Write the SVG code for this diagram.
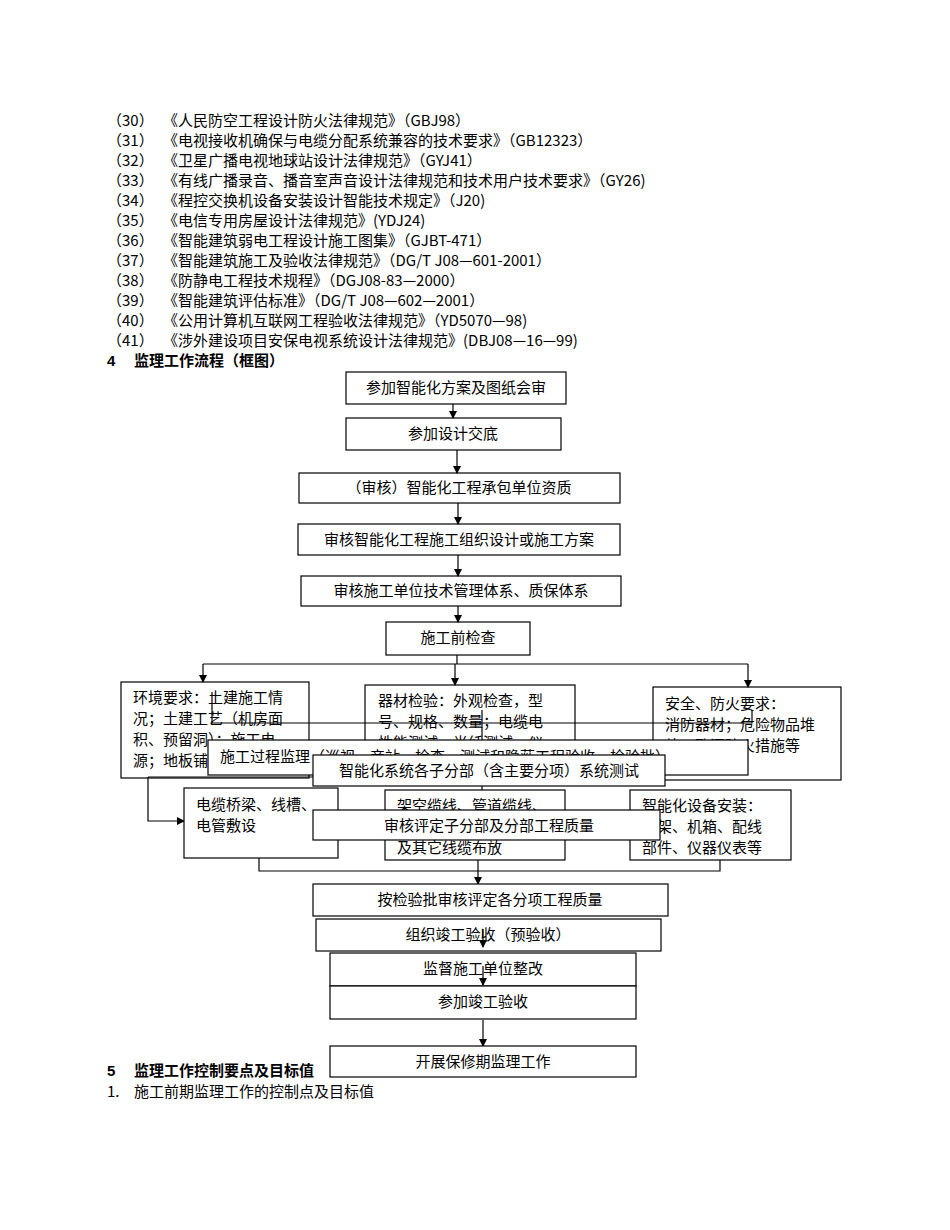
<svg xmlns="http://www.w3.org/2000/svg" width="950" height="1230" viewBox="0 0 950 1230">
<defs>
<marker id="ah" markerWidth="8" markerHeight="8" refX="7" refY="4" orient="auto" markerUnits="userSpaceOnUse"><path d="M0,0 L8,4 L0,8 z" fill="#000"/></marker>
<style>
text{font-family:"Noto Sans CJK SC","Liberation Serif",serif;font-size:15px;fill:#000}
.b{fill:#fff;stroke:#000;stroke-width:1.2}
.c{fill:none;stroke:#000;stroke-width:1.2}
.a{marker-end:url(#ah)}
.m{text-anchor:middle}
.h{font-family:"Liberation Sans","Noto Sans CJK SC",sans-serif;font-weight:bold}
</style>
</defs>
<rect width="950" height="1230" fill="#fff"/>
<g id="refs">
<text x="107" y="126">（30）</text><text x="163" y="126">《人民防空工程设计防火法律规范》（GBJ98）</text>
<text x="107" y="146">（31）</text><text x="163" y="146">《电视接收机确保与电缆分配系统兼容的技术要求》（GB12323）</text>
<text x="107" y="166">（32）</text><text x="163" y="166">《卫星广播电视地球站设计法律规范》（GYJ41）</text>
<text x="107" y="186">（33）</text><text x="163" y="186">《有线广播录音、播音室声音设计法律规范和技术用户技术要求》（GY26)</text>
<text x="107" y="206">（34）</text><text x="163" y="206">《程控交换机设备安装设计智能技术规定》（J20)</text>
<text x="107" y="226">（35）</text><text x="163" y="226">《电信专用房屋设计法律规范》(YDJ24)</text>
<text x="107" y="246">（36）</text><text x="163" y="246">《智能建筑弱电工程设计施工图集》（GJBT-471）</text>
<text x="107" y="266">（37）</text><text x="163" y="266">《智能建筑施工及验收法律规范》（DG/T J08—601-2001）</text>
<text x="107" y="286">（38）</text><text x="163" y="286">《防静电工程技术规程》（DGJ08-83—2000）</text>
<text x="107" y="306">（39）</text><text x="163" y="306">《智能建筑评估标准》（DG/T J08—602—2001）</text>
<text x="107" y="326">（40）</text><text x="163" y="326">《公用计算机互联网工程验收法律规范》（YD5070—98)</text>
<text x="107" y="346">（41）</text><text x="163" y="346">《涉外建设项目安保电视系统设计法律规范》(DBJ08—16—99)</text>
<text x="107" y="366" class="h">4</text><text x="134" y="366" class="h">监理工作流程（框图）</text>
</g>
<g id="n1"><rect class="b" x="346" y="372" width="220" height="32"/><text class="m" x="456" y="393">参加智能化方案及图纸会审</text></g>
<g id="n2"><rect class="b" x="346" y="418" width="215" height="32"/><text class="m" x="453" y="439">参加设计交底</text></g>
<g id="n3"><rect class="b" x="299" y="473" width="321" height="30"/><text class="m" x="459" y="493">（审核）智能化工程承包单位资质</text></g>
<g id="n4"><rect class="b" x="298" y="524" width="322" height="31"/><text class="m" x="459" y="545">审核智能化工程施工组织设计或施工方案</text></g>
<g id="n5"><rect class="b" x="301" y="576" width="320" height="30"/><text class="m" x="461" y="596">审核施工单位技术管理体系、质保体系</text></g>
<g id="n6"><rect class="b" x="386" y="622" width="144" height="33"/><text class="m" x="458" y="643">施工前检查</text></g>
<g id="n7"><rect class="b" x="121" y="682" width="188" height="96"/>
<text x="133" y="703">环境要求：土建施工情</text><text x="133" y="724">况；土建工艺（机房面</text><text x="133" y="745">积、预留洞）；施工电</text><text x="133" y="766">源；地板铺设</text></g>
<g id="n8"><rect class="b" x="365" y="685" width="210" height="95"/>
<text x="378" y="706">器材检验：外观检查，型</text><text x="378" y="727">号、规格、数量；电缆电</text><text x="378" y="748">性能测试、光纤测试、仪</text></g>
<g id="n9"><rect class="b" x="653" y="687" width="188" height="93"/>
<text x="665" y="709">安全、防火要求：</text><text x="665" y="730">消防器材；危险物品堆</text><text x="665" y="751">放、孔洞防火措施等</text></g>
<g id="connectors">
<path class="c a" d="M453,404 V418"/>
<path class="c a" d="M457,450 V473"/>
<path class="c a" d="M458,503 V524"/>
<path class="c a" d="M458,555 V576"/>
<path class="c a" d="M458,606 V622"/>
<path class="c" d="M457,655 V664 M203,664 H748"/>
<path class="c a" d="M203,664 V682"/>
<path class="c a" d="M455,664 V685"/>
<path class="c a" d="M748,664 V687"/>
<path class="c" d="M212,692 V723 H752 V710"/>
<path class="c a" d="M482,710 V755"/>
<path class="c a" d="M148,777 V821 H184"/>
<path class="c" d="M148,777 H313"/>
<path class="c a" d="M482,786 V810"/>
<path class="c" d="M259,858 V871 H720 V860"/>
<path class="c a" d="M478,840 V884"/>
<path class="c a" d="M483,1020 V1046"/>
</g>
<g id="n10"><rect class="b" x="208" y="740" width="540" height="35"/><text x="220" y="762">施工过程监理（巡视、旁站、检查、测试和隐蔽工程验收、检验批）</text></g>
<g id="n11"><rect class="b" x="313" y="755" width="352" height="31"/><text class="m" x="489" y="776">智能化系统各子分部（含主要分项）系统测试</text></g>
<g id="n12"><rect class="b" x="184" y="788" width="154" height="70"/><text x="196" y="810">电缆桥梁、线槽、</text><text x="196" y="831">电管敷设</text></g>
<g id="n13"><rect class="b" x="385" y="790" width="180" height="70"/><text x="397" y="811">架空缆线、管道缆线、</text><text x="397" y="853">及其它线缆布放</text></g>
<g id="n14"><rect class="b" x="630" y="790" width="161" height="70"/><text x="642" y="811">智能化设备安装：</text><text x="642" y="832">机架、机箱、配线</text><text x="642" y="853">部件、仪器仪表等</text></g>
<g id="n15"><rect class="b" x="313" y="810" width="347" height="30"/><text class="m" x="489" y="831">审核评定子分部及分部工程质量</text></g>
<g id="n16"><rect class="b" x="313" y="884" width="355" height="32"/><text class="m" x="490" y="905">按检验批审核评定各分项工程质量</text></g>
<g id="n17"><rect class="b" x="316" y="919" width="345" height="32"/><text class="m" x="488" y="940">组织竣工验收（预验收）</text><path class="c a" d="M483,929 V947"/></g>
<g id="n18"><rect class="b" x="330" y="953" width="306" height="33"/><text class="m" x="483" y="974">监督施工单位整改</text><path class="c a" d="M483,966 V985"/></g>
<g id="n19"><rect class="b" x="330" y="986" width="306" height="33"/><text class="m" x="483" y="1007">参加竣工验收</text></g>
<g id="n20"><rect class="b" x="330" y="1046" width="306" height="31"/><text class="m" x="483" y="1067">开展保修期监理工作</text></g>
<text x="107" y="1076" class="h">5</text><text x="134" y="1076" class="h">监理工作控制要点及目标值</text>
<text x="107" y="1097">1.</text><text x="134" y="1097">施工前期监理工作的控制点及目标值</text>
</svg>
